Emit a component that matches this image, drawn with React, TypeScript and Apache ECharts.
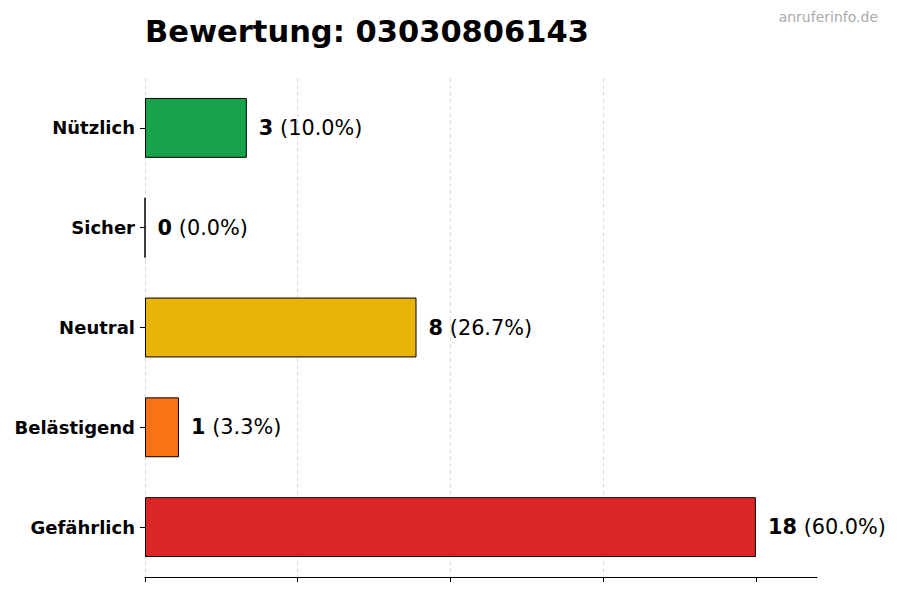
import React, { useEffect, useRef } from "react";
import * as echarts from "echarts";

const categories = ["Nützlich", "Sicher", "Neutral", "Belästigend", "Gefährlich"];
const counts = [3, 0, 8, 1, 18];
const percents = ["10.0%", "0.0%", "26.7%", "3.3%", "60.0%"];
const colors = ["#16a34a", "#eab308", "#eab308", "#f97316", "#dc2626"];
const xTicks = [0, 4.5, 9, 13.5, 18];
const titleText = "Bewertung: 03030806143";
const watermark = "anruferinfo.de";

const FONT = "DejaVu Sans";

export default function App() {
  const ref = useRef<HTMLDivElement>(null);
  useEffect(() => {
    if (!ref.current) return;
    const chart = echarts.init(ref.current, undefined, { renderer: "svg" });
    chart.setOption({
      animation: false,
      backgroundColor: "#ffffff",
      textStyle: { fontFamily: FONT },
      title: [
        {
          text: titleText,
          left: 145,
          top: 16,
          padding: 0,
          textStyle: { fontFamily: FONT, fontSize: 30.5, fontWeight: "bold", color: "#000" },
        },
        {
          text: watermark,
          right: 22,
          top: 10,
          padding: 0,
          textStyle: { fontFamily: FONT, fontSize: 14, fontWeight: "normal", color: "#aaaaaa" },
        },
      ],
      grid: { left: 145, right: 83, top: 78, height: 499 },
      xAxis: {
        type: "value",
        min: 0,
        max: 19.8,
        interval: 4.5,
        axisLabel: { show: false },
        axisLine: { show: true, lineStyle: { color: "#000", width: 1.2 } },
        axisTick: { show: true, length: 5, customValues: xTicks, lineStyle: { color: "#000" } },
        splitLine: {
          show: true,
          showMaxLine: false,
          lineStyle: { color: "#dcdcdc", type: [4, 3], width: 1 },
        },
      },
      yAxis: {
        type: "category",
        inverse: true,
        data: categories,
        axisLine: { show: false },
        axisTick: { show: true, alignWithLabel: true, length: 5, lineStyle: { color: "#000" } },
        axisLabel: {
          fontFamily: FONT,
          fontSize: 18,
          fontWeight: "bold",
          color: "#000",
          margin: 10,
          padding: [3, 0, 0, 0],
        },
      },
      series: [
        {
          type: "bar",
          barWidth: "60%",
          data: counts.map((v, i) => ({
            value: v,
            itemStyle: { color: colors[i], borderColor: "#000", borderWidth: 1 },
          })),
          label: {
            show: true,
            position: "right",
            distance: 12,
            formatter: (p: any) => `{b|${counts[p.dataIndex]}} {r|(${percents[p.dataIndex]})}`,
            rich: {
              b: { fontFamily: FONT, fontSize: 20.8, fontWeight: "bold", color: "#000", padding: [0, 3, 0, 0] },
              r: { fontFamily: FONT, fontSize: 20.8, color: "#000" },
            },
          },
        },
      ],
    });
    return () => chart.dispose();
  }, []);
  return <div ref={ref} style={{ width: 900, height: 600, position: "absolute", left: 0, top: 0 }} />;
}
